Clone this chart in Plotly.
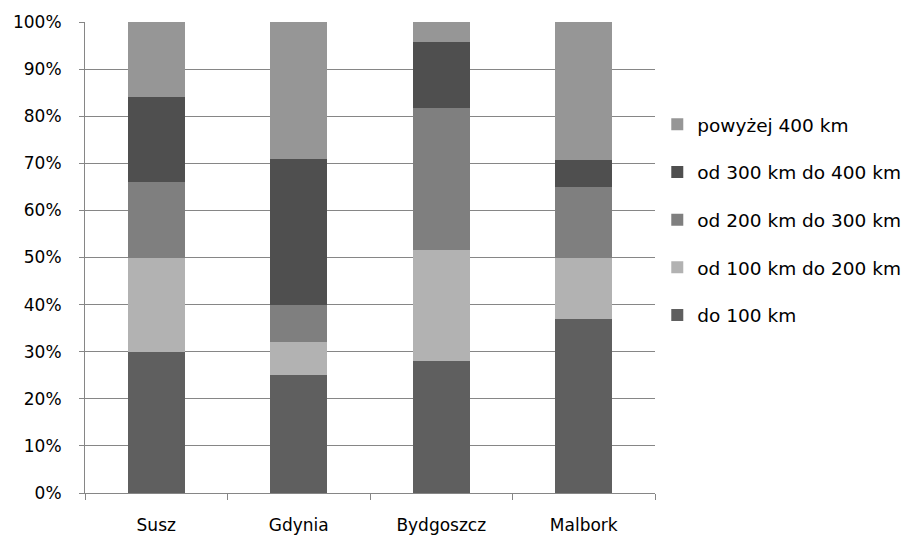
import plotly.graph_objects as go

categories = ["Susz", "Gdynia", "Bydgoszcz", "Malbork"]
series_names = ["do 100 km", "od 100 km do 200 km", "od 200 km do 300 km",
                "od 300 km do 400 km", "powyżej 400 km"]
do_100 = [30, 25, 28.1, 36.9]
od_100_200 = [20, 7, 23.4, 13]
od_200_300 = [16, 8, 30.2, 15.1]
od_300_400 = [18, 31, 14.1, 5.8]
powyzej_400 = [16, 29, 4.2, 29.2]
colors = ["#5f5f5f", "#b2b2b2", "#7f7f7f", "#4f4f4f", "#969696"]
tick_vals = [0, 10, 20, 30, 40, 50, 60, 70, 80, 90, 100]
tick_text = ["0%", "10%", "20%", "30%", "40%", "50%", "60%", "70%", "80%", "90%", "100%"]

series = [do_100, od_100_200, od_200_300, od_300_400, powyzej_400]

fig = go.Figure()
for i, (name, vals) in enumerate(zip(series_names, series)):
    fig.add_trace(go.Bar(x=categories, y=vals, name=name, legendgroup=name,
                         legendrank=len(series) - i,
                         marker=dict(color=colors[i], line=dict(width=0))))

font_family = "DejaVu Sans, sans-serif"
fig.update_layout(
    barmode="stack",
    bargap=0.6,
    width=902, height=527,
    margin=dict(l=77, r=255, t=14, b=42, autoexpand=False),
    paper_bgcolor="white", plot_bgcolor="white",
    font=dict(family=font_family, size=17, color="#000000"),
    showlegend=True,
    legend=dict(x=1.004, y=0.822, xanchor="left", yanchor="top",
                traceorder="grouped", tracegroupgap=20.6,
                font=dict(size=18.5), itemwidth=30),
    xaxis=dict(showline=True, linecolor="#868686", linewidth=1,
               ticks="outside", tickson="boundaries", ticklen=6, tickcolor="#868686",
               tickfont=dict(size=17), showgrid=False, ticklabelstandoff=17),
    yaxis=dict(range=[0, 100], tickvals=tick_vals, ticktext=tick_text,
               showline=True, linecolor="#868686", linewidth=1,
               ticks="outside", ticklen=5, tickcolor="#868686",
               showgrid=True, gridcolor="#868686", gridwidth=1,
               tickfont=dict(size=17), zeroline=False, ticklabelstandoff=14),
)

fig.write_html("out.html")
